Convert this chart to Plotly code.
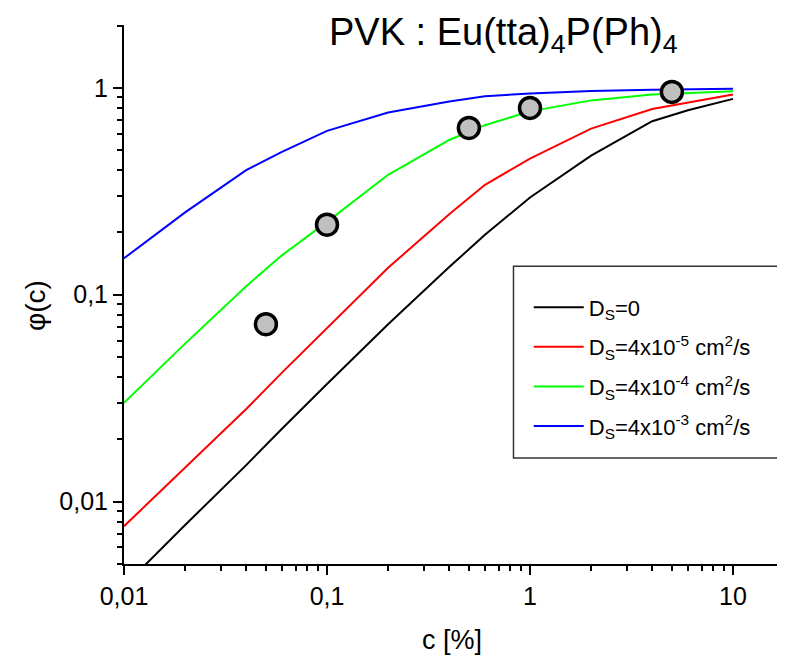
import plotly.graph_objects as go

# ---------------- data ----------------
conc = [0.01, 0.02, 0.04, 0.06, 0.1, 0.2, 0.4, 0.6, 1, 2, 4, 6, 10]
phi_ds0 = [0.0039, 0.0077, 0.0150, 0.0225, 0.037, 0.072, 0.136, 0.195, 0.295, 0.47, 0.69, 0.78, 0.885]
phi_ds_4e5 = [0.0076, 0.0146, 0.028, 0.042, 0.069, 0.135, 0.245, 0.34, 0.455, 0.635, 0.79, 0.85, 0.93]
phi_ds_4e4 = [0.030, 0.058, 0.11, 0.155, 0.225, 0.38, 0.56, 0.66, 0.77, 0.87, 0.93, 0.945, 0.964]
phi_ds_4e3 = [0.15, 0.25, 0.40, 0.49, 0.62, 0.76, 0.86, 0.91, 0.94, 0.965, 0.98, 0.985, 0.99]

exp_conc = [0.05, 0.1, 0.5, 1, 5]
exp_phi = [0.072, 0.218, 0.64, 0.80, 0.956]

series_names = [
    "D<sub>S</sub>=0",
    "D<sub>S</sub>=4x10<sup>-5</sup> cm<sup>2</sup>/s",
    "D<sub>S</sub>=4x10<sup>-4</sup> cm<sup>2</sup>/s",
    "D<sub>S</sub>=4x10<sup>-3</sup> cm<sup>2</sup>/s",
]
series_colors = ["#000000", "#ff0000", "#00ff00", "#0000ff"]

x_tickvals = [0.01, 0.1, 1, 10]
x_ticktext = ["0,01", "0,1", "1", "10"]
y_tickvals = [0.01, 0.1, 1]
y_ticktext = ["0,01", "0,1", "1"]

FONT = "Liberation Sans, Arial, sans-serif"

fig = go.Figure()
for i, (ys, name, col) in enumerate(zip([phi_ds0, phi_ds_4e5, phi_ds_4e4, phi_ds_4e3], series_names, series_colors)):
    fig.add_trace(go.Scatter(x=conc, y=ys, mode="lines", name=name, legendgroup=f"g{i}",
                             line=dict(color=col, width=2)))

fig.add_trace(go.Scatter(x=exp_conc, y=exp_phi, mode="markers", showlegend=False,
                         marker=dict(size=21, color="#c0c0c0",
                                     line=dict(color="#000000", width=3.5))))

minor_x = [m * 10 ** e for e in range(-2, 2) for m in range(2, 10)]
minor_y = [m * 10 ** e for e in range(-3, 1) for m in range(2, 10)]

# plot area: 669 px wide at 203 px per decade
x_max_log = -2 + 669 / 203.0

fig.update_layout(
    width=785, height=663,
    margin=dict(l=116, r=0, t=17, b=107),
    paper_bgcolor="white", plot_bgcolor="white",
    font=dict(family=FONT, color="black", size=25),
    showlegend=True,
    legend=dict(x=0.605, y=0.515, xanchor="left", yanchor="top",
                bgcolor="rgba(0,0,0,0)", borderwidth=0,
                font=dict(size=22, family=FONT), itemwidth=50,
                tracegroupgap=8),
    xaxis=dict(type="log", range=[-2, x_max_log], showgrid=False, zeroline=False,
               showline=True, linecolor="black", linewidth=2,
               ticks="outside", ticklen=9, tickwidth=2, tickcolor="black",
               tickvals=x_tickvals, ticktext=x_ticktext,
               tickfont=dict(size=25, family=FONT),
               minor=dict(tickvals=minor_x, ticks="outside", ticklen=5,
                          tickwidth=2, tickcolor="black", showgrid=False)),
    yaxis=dict(type="log", range=[-2.302, 0.304], showgrid=False, zeroline=False,
               showline=True, linecolor="black", linewidth=2,
               ticks="outside", ticklen=9, tickwidth=2, tickcolor="black",
               tickvals=y_tickvals, ticktext=y_ticktext,
               tickfont=dict(size=25, family=FONT),
               minor=dict(tickvals=minor_y, ticks="outside", ticklen=5,
                          tickwidth=2, tickcolor="black", showgrid=False)),
    shapes=[dict(type="rect", xref="paper", yref="paper",
                 x0=0.5822, x1=1.03, y0=0.1965, y1=0.5524,
                 line=dict(color="#333333", width=1.5), fillcolor="rgba(0,0,0,0)")],
    annotations=[
        dict(text="PVK : Eu(tta)<sub>4</sub>P(Ph)<sub>4</sub>", xref="paper", yref="paper",
             x=0.568, y=0.982, xanchor="center", yanchor="middle", showarrow=False,
             font=dict(size=38, family=FONT)),
        dict(text="c [%]", xref="paper", yref="paper", x=0.491, y=-0.141,
             xanchor="center", yanchor="middle", showarrow=False,
             font=dict(size=27, family=FONT)),
        dict(text="φ(c)", xref="paper", yref="paper", x=-0.132, y=0.48,
             xanchor="center", yanchor="middle", showarrow=False, textangle=-90,
             font=dict(size=28, family=FONT)),
    ],
)

fig.write_html("out.html")
